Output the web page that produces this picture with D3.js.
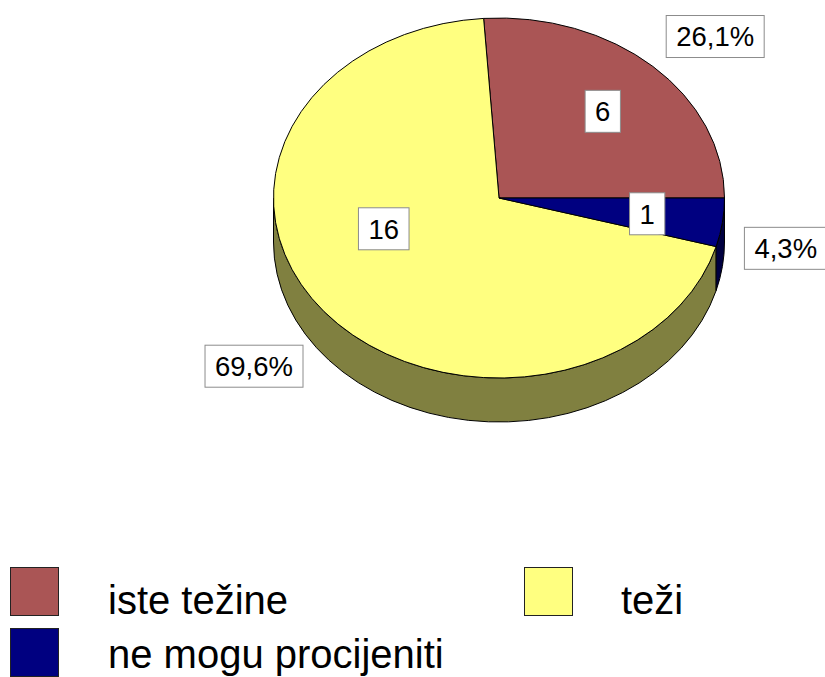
<!DOCTYPE html>
<html>
<head>
<meta charset="utf-8">
<script src="https://cdn.jsdelivr.net/npm/d3@7"></script>
<style>
  html, body { margin: 0; padding: 0; background: #fff; }
  svg { display: block; }
  text { font-family: "Liberation Sans", Arial, sans-serif; fill: #000; }
</style>
</head>
<body>
<svg id="chart" width="825" height="677"></svg>
<script>
// ---- data ----
const categories = ["iste težine", "teži", "ne mogu procijeniti"];
const values = [6, 16, 1];
const percentLabels = ["26,1%", "69,6%", "4,3%"];
const topColors = ["#AA5555", "#FFFF80", "#000080"];
const sideColors = ["#552B2B", "#808040", "#000040"];

// ---- layout ----
const W = 825, H = 677;
const cx = 499, cy = 198, rx = 225.5, ry = 180, depth = 44;
// label placement: [param angle (deg), radius factor] for value and percent labels
const valueLabelPos = [[-46.3, 0.666], [161.5, 0.539], [7.6, 0.663]];
const pctLabelPos = [[-43.1, 1.313], [139.3, 1.433], [12.4, 1.302]];
const labelFont = 27.5, boxH = 42, boxPad = 10;

const svg = d3.select("#chart");

// pie angles (d3: clockwise from 12 o'clock); map to screen param t = 2π - angle (slices go counterclockwise from 3 o'clock)
const pie = d3.pie().sort(null).value(d => d)(values);
const TAU = Math.PI * 2;
const slices = pie.map((p, i) => ({
  i,
  t0: TAU - p.endAngle,
  t1: TAU - p.startAngle,
}));

const px = (t, dy = 0, f = 1) => [cx + f * rx * Math.cos(t), cy + dy + f * ry * Math.sin(t)];

// ---- side walls (front half: t in [0, π]) ----
const walls = svg.append("g");
slices.forEach(s => {
  [0, -TAU].forEach(shift => {
    const a = Math.max(s.t0 + shift, 0), b = Math.min(s.t1 + shift, Math.PI);
    if (b - a <= 1e-6) return;
    const p0 = px(a), p1 = px(b), q1 = px(b, depth), q0 = px(a, depth);
    const large = (b - a) > Math.PI ? 1 : 0;
    const d = `M${p0[0]},${p0[1]} A${rx},${ry} 0 ${large} 1 ${p1[0]},${p1[1]}` +
              ` L${q1[0]},${q1[1]} A${rx},${ry} 0 ${large} 0 ${q0[0]},${q0[1]} Z`;
    walls.append("path").attr("d", d)
      .attr("fill", sideColors[s.i]).attr("stroke", "#000").attr("stroke-width", 1)
      .attr("stroke-linejoin", "round");
  });
});

// ---- top faces ----
const tops = svg.append("g");
slices.forEach(s => {
  const p0 = px(s.t0), p1 = px(s.t1);
  const large = (s.t1 - s.t0) > Math.PI ? 1 : 0;
  const d = `M${cx},${cy} L${p0[0]},${p0[1]} A${rx},${ry} 0 ${large} 1 ${p1[0]},${p1[1]} Z`;
  tops.append("path").attr("d", d)
    .attr("fill", topColors[s.i]).attr("stroke", "#000").attr("stroke-width", 1)
    .attr("stroke-linejoin", "round");
});

// ---- labels ----
function boxLabel(g, txt, pos) {
  const t = pos[0] * Math.PI / 180;
  const [x, y] = px(t, 0, pos[1]);
  const lg = g.append("g");
  const tx = lg.append("text").attr("x", x).attr("y", y + labelFont * 0.358)
    .attr("text-anchor", "middle").attr("font-size", labelFont).text(txt);
  const w = tx.node().getComputedTextLength() + 2 * boxPad;
  lg.insert("rect", "text")
    .attr("x", x - w / 2).attr("y", y - boxH / 2).attr("width", w).attr("height", boxH)
    .attr("fill", "#fff").attr("stroke", "#8c8c8c").attr("stroke-width", 1);
}
const labels = svg.append("g");
values.forEach((v, i) => boxLabel(labels, String(v), valueLabelPos[i]));
percentLabels.forEach((p, i) => boxLabel(labels, p, pctLabelPos[i]));

// ---- legend ----
const legendItems = [
  { i: 0, sx: 10, sy: 567, tx: 108, ty: 614 },
  { i: 1, sx: 524, sy: 567, tx: 621, ty: 614 },
  { i: 2, sx: 10, sy: 628, tx: 108, ty: 668 },
];
const legend = svg.append("g");
legendItems.forEach(it => {
  legend.append("rect").attr("x", it.sx + 0.5).attr("y", it.sy + 0.5)
    .attr("width", 48).attr("height", 48)
    .attr("fill", topColors[it.i]).attr("stroke", "#222").attr("stroke-width", 1);
  legend.append("text").attr("x", it.tx).attr("y", it.ty)
    .attr("font-size", 40).text(categories[it.i]);
});
</script>
</body>
</html>
